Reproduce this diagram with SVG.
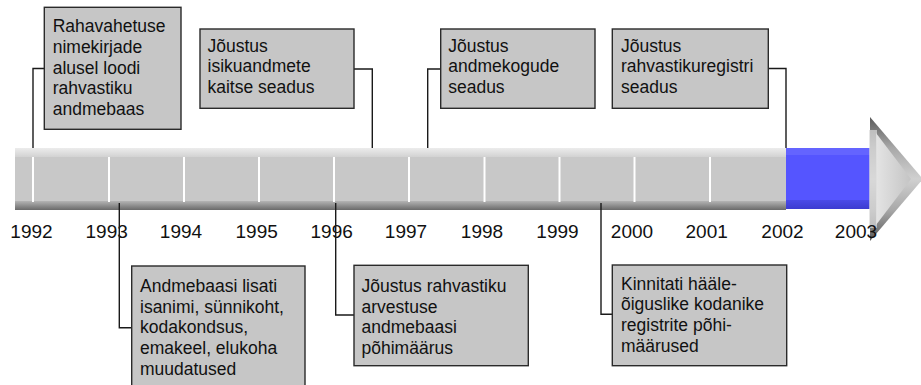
<svg xmlns="http://www.w3.org/2000/svg" width="921" height="385" viewBox="0 0 921 385">
<defs>
<linearGradient id="barTop" x1="0" y1="0" x2="0" y2="1">
<stop offset="0" stop-color="#ececec"/>
<stop offset="1" stop-color="#d2d2d2"/>
</linearGradient>
<linearGradient id="barBot" x1="0" y1="0" x2="0" y2="1">
<stop offset="0" stop-color="#b4b4b4"/>
<stop offset="1" stop-color="#6a6a6a"/>
</linearGradient>
<linearGradient id="blueBot" x1="0" y1="0" x2="0" y2="1">
<stop offset="0" stop-color="#4a4ae8"/>
<stop offset="1" stop-color="#3c3cd0"/>
</linearGradient>
<linearGradient id="headOuter" x1="0" y1="0" x2="0" y2="1">
<stop offset="0" stop-color="#5a5a5a"/>
<stop offset="0.25" stop-color="#a8a8a8"/>
<stop offset="0.5" stop-color="#d0d0d0"/>
<stop offset="0.75" stop-color="#a8a8a8"/>
<stop offset="1" stop-color="#5a5a5a"/>
</linearGradient>
<linearGradient id="headInner" x1="0" y1="0" x2="1" y2="0">
<stop offset="0" stop-color="#e4e4e4"/>
<stop offset="1" stop-color="#c4c4c4"/>
</linearGradient>
</defs>
<style>
.box{fill:#c6c6c6;stroke:#2a2a2a;stroke-width:1.4}
.t{font-family:"Liberation Sans",Arial,sans-serif;font-size:17.5px;fill:#111}
.yr{font-family:"Liberation Sans",Arial,sans-serif;font-size:19px;fill:#111;text-anchor:middle}
.tick{stroke:#ffffff;stroke-width:2}
.conn{fill:none;stroke:#1a1a1a;stroke-width:1.4}
</style>

<g id="timeline">
<rect x="15" y="148" width="771" height="62" fill="#c8c8c8"/>
<rect x="15" y="148" width="771" height="9" fill="url(#barTop)"/>
<rect x="15" y="201" width="771" height="9" fill="url(#barBot)"/>
<line class="tick" x1="33" y1="157" x2="33" y2="202"/>
<line class="tick" x1="109" y1="157" x2="109" y2="202"/>
<line class="tick" x1="184" y1="157" x2="184" y2="202"/>
<line class="tick" x1="259" y1="157" x2="259" y2="202"/>
<line class="tick" x1="334" y1="157" x2="334" y2="202"/>
<line class="tick" x1="409" y1="157" x2="409" y2="202"/>
<line class="tick" x1="484.5" y1="157" x2="484.5" y2="202"/>
<line class="tick" x1="559.5" y1="157" x2="559.5" y2="202"/>
<line class="tick" x1="634.5" y1="157" x2="634.5" y2="202"/>
<line class="tick" x1="710" y1="157" x2="710" y2="202"/>
<rect x="786" y="148" width="92" height="61" fill="#5555ff"/>
<rect x="786" y="148" width="92" height="7" fill="#6464ff"/>
<rect x="786" y="200" width="92" height="9" fill="url(#blueBot)"/>
<polygon points="870,117 923,179 870,241" fill="url(#headOuter)"/>
<polygon points="876,133 911,179 876,225" fill="url(#headInner)"/>
<rect x="869" y="130" width="8" height="98" fill="#dcdcdc" opacity="0.7"/>
</g>

<g id="years">
<text class="yr" x="31.5" y="238">1992</text>
<text class="yr" x="106.7" y="238">1993</text>
<text class="yr" x="181" y="238">1994</text>
<text class="yr" x="256.7" y="238">1995</text>
<text class="yr" x="331.7" y="238">1996</text>
<text class="yr" x="406" y="238">1997</text>
<text class="yr" x="482" y="238">1998</text>
<text class="yr" x="557.5" y="238">1999</text>
<text class="yr" x="632" y="238">2000</text>
<text class="yr" x="706.7" y="238">2001</text>
<text class="yr" x="782.5" y="238">2002</text>
<text class="yr" x="856" y="238">2003</text>
</g>

<g id="connectors">
<polyline class="conn" points="44.3,68.5 33,68.5 33,148"/>
<polyline class="conn" points="354,69 372.3,69 372.3,148"/>
<polyline class="conn" points="440.7,69 427.7,69 427.7,148"/>
<polyline class="conn" points="768.3,68.5 786,68.5 786,148"/>
<polyline class="conn" points="119.3,203 119.3,327.7 131.7,327.7"/>
<polyline class="conn" points="335.7,203 335.7,315 354,315"/>
<polyline class="conn" points="601,203 601,314.3 612.3,314.3"/>
</g>

<g id="node-1992">
<rect class="box" x="44.3" y="7.3" width="136.7" height="122"/>
<text class="t" x="52.7" y="32.3">Rahavahetuse</text>
<text class="t" x="52.7" y="53">nimekirjade</text>
<text class="t" x="52.7" y="73.7">alusel loodi</text>
<text class="t" x="52.7" y="94.4">rahvastiku</text>
<text class="t" x="52.7" y="115.1">andmebaas</text>
</g>

<g id="node-isikuandmete">
<rect class="box" x="200" y="29" width="154" height="79.3"/>
<text class="t" x="207.5" y="51.7">Jõustus</text>
<text class="t" x="207.5" y="72.4">isikuandmete</text>
<text class="t" x="207.5" y="93.1">kaitse seadus</text>
</g>

<g id="node-andmekogude">
<rect class="box" x="440.7" y="29" width="154.3" height="79.3"/>
<text class="t" x="448.2" y="51.7">Jõustus</text>
<text class="t" x="448.2" y="72.4">andmekogude</text>
<text class="t" x="448.2" y="93.1">seadus</text>
</g>

<g id="node-rahvastikuregistri">
<rect class="box" x="612.3" y="29" width="156" height="79.3"/>
<text class="t" x="621" y="51.7">Jõustus</text>
<text class="t" x="621" y="72.4">rahvastikuregistri</text>
<text class="t" x="621" y="93.1">seadus</text>
</g>

<g id="node-1993">
<rect class="box" x="131.7" y="266" width="173.3" height="125"/>
<text class="t" x="140" y="291.7">Andmebaasi lisati</text>
<text class="t" x="140" y="312.5">isanimi, sünnikoht,</text>
<text class="t" x="140" y="333.3">kodakondsus,</text>
<text class="t" x="140" y="354.1">emakeel, elukoha</text>
<text class="t" x="140" y="374.9">muudatused</text>
</g>

<g id="node-1996">
<rect class="box" x="354" y="265.3" width="174.3" height="100.4"/>
<text class="t" x="361.5" y="291.7">Jõustus rahvastiku</text>
<text class="t" x="361.5" y="312.5">arvestuse</text>
<text class="t" x="361.5" y="333.3">andmebaasi</text>
<text class="t" x="361.5" y="354.1">põhimäärus</text>
</g>

<g id="node-1999">
<rect class="box" x="612.3" y="265" width="174.4" height="100.7"/>
<text class="t" x="621" y="289.5">Kinnitati hääle-</text>
<text class="t" x="621" y="310.2">õiguslike kodanike</text>
<text class="t" x="621" y="330.9">registrite põhi-</text>
<text class="t" x="621" y="351.6">määrused</text>
</g>
</svg>
